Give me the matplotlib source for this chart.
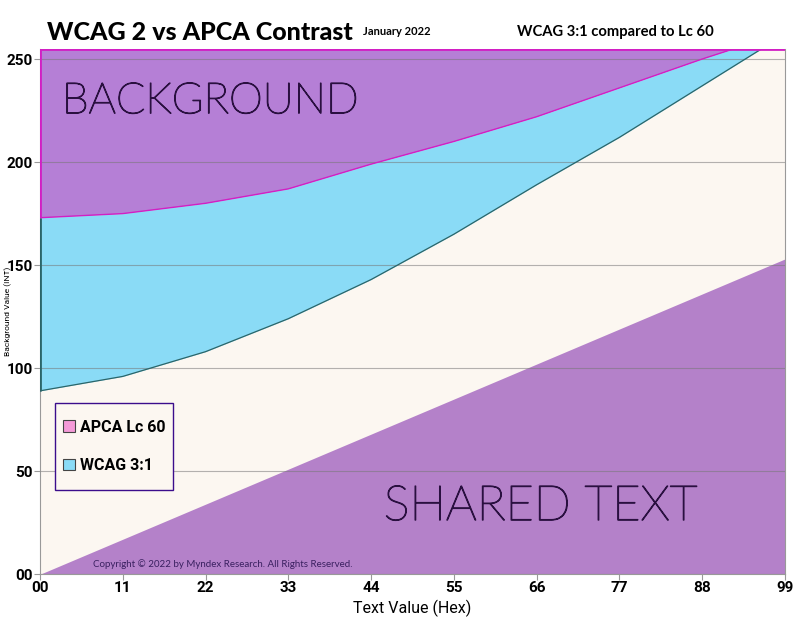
"""
WCAG 2 vs APCA contrast: background value needed for a given text value.
"""

import matplotlib
matplotlib.use("Agg")
import matplotlib.pyplot as plt
import matplotlib.patheffects as pe
from matplotlib.patches import Patch, Rectangle

# text value (0x00 .. 0x99), one point per 0x11 step
text_hex = ["00", "11", "22", "33", "44", "55", "66", "77", "88", "99"]
text_val = [0, 17, 34, 51, 68, 85, 102, 119, 136, 153]

# background value needed (clipped at 255 on the chart)
apca_lc60 = [173, 175, 180, 187, 199, 210, 222, 236, 250, 263]
wcag_3to1 = [89, 96, 108, 124, 143, 165, 189, 212, 237, 262]

y_ticks = [0, 50, 100, 150, 200, 250]
y_tick_labels = ["00", "50", "100", "150", "200", "250"]

PURPLE_TOP = "#b57fd6"
PURPLE_BOT = "#b481c9"
BLUE = "#8adbf6"
CREAM = "#fcf7f1"
MAGENTA = "#d21fc4"
TEAL = "#2b6569"
INK = "#2a1040"

plt.rcParams["font.family"] = ["Roboto", "DejaVu Sans"]

fig = plt.figure(figsize=(7.98, 6.27), dpi=100)
ax = fig.add_axes([0.0501, 0.0841, 0.9336, 0.8382])
ax.set_facecolor(CREAM)

# filled regions
ax.fill_between(text_val, apca_lc60, 300, color=PURPLE_TOP, lw=0, zorder=1)
ax.fill_between(text_val, wcag_3to1, apca_lc60, color=BLUE, lw=0, zorder=1)
ax.fill_between(text_val, 0, text_val, color=PURPLE_BOT, lw=0, zorder=1)

# boundary lines
ax.plot(text_val, apca_lc60, color=MAGENTA, lw=1, zorder=3)
ax.plot(text_val, wcag_3to1, color=TEAL, lw=0.9, zorder=3)
ax.vlines(0, apca_lc60[0], 255, color=MAGENTA, lw=2, zorder=3)
ax.vlines(0, wcag_3to1[0], apca_lc60[0], color=TEAL, lw=2, zorder=3)
ax.axhline(255, color=MAGENTA, lw=2, zorder=3)

ax.set_xlim(0, 153)
ax.set_ylim(0, 255)
ax.set_xticks(text_val)
ax.set_xticklabels(text_hex)
ax.set_yticks(y_ticks)
ax.set_yticklabels(y_tick_labels)
ax.tick_params(axis="both", labelsize=11, colors="#999999", length=4, width=0.8,
               pad=1, labelcolor="black")
for lab in ax.get_xticklabels() + ax.get_yticklabels():
    lab.set_fontweight("bold")

ax.grid(axis="y", color="#777777", alpha=0.55, lw=0.8, zorder=2)
ax.set_axisbelow(False)
for side in ["left", "right", "bottom"]:
    ax.spines[side].set_color("#999999")
ax.spines["top"].set_visible(False)

ax.set_xlabel("Text Value (Hex)", fontsize=11.5, labelpad=3)
ax.set_ylabel("Background Value (INT)", fontsize=6, va="center")
ax.yaxis.set_label_coords(-0.043, 0.5)

# region labels: thin face thickened a little with a stroke
thicken = [pe.withStroke(linewidth=0.9, foreground=INK)]
ax.text(4.5, 223.7, "BACKGROUND", fontsize=31, family="Lato", weight="light",
        color=INK, va="baseline", zorder=4, path_effects=thicken)
ax.text(70.6, 26.3, "SHARED TEXT", fontsize=35, family="Lato", weight="light",
        color=INK, va="baseline", zorder=4, path_effects=thicken)
ax.text(10.8, 3.5, "Copyright \u00a9 2022 by Myndex Research. All Rights Reserved.",
        fontsize=7, family="Lato", color="#3a2060", zorder=4)

# legend: frame drawn separately so the padding can differ per side
ax.add_patch(Rectangle((0.020, 0.160), 0.159, 0.1665, transform=ax.transAxes,
                       facecolor=CREAM, edgecolor="#3b0d8c", lw=1, zorder=5))
handles = [Patch(facecolor="#f59ad8", edgecolor="#444444", lw=0.8, label="APCA Lc 60"),
           Patch(facecolor=BLUE, edgecolor="#444444", lw=0.8, label="WCAG 3:1")]
leg = ax.legend(handles=handles, loc="center", bbox_to_anchor=(0.0995, 0.2433),
                frameon=False, handlelength=0.75, handleheight=0.75,
                handletextpad=0.3, labelspacing=1.45, borderpad=0,
                prop={"size": 11.5, "weight": "bold"})
leg.set_zorder(6)

# titles
fig.text(0.0589, 0.937, "WCAG 2 vs APCA Contrast", fontsize=18, family="Lato",
         weight="black", va="baseline")
fig.text(0.455, 0.944, "January 2022", fontsize=8, family="Lato", weight="bold",
         va="baseline")
fig.text(0.648, 0.943, "WCAG 3:1 compared to Lc 60", fontsize=10.6, family="Lato",
         weight="bold", va="baseline")

fig.savefig("out.png", dpi=100)
